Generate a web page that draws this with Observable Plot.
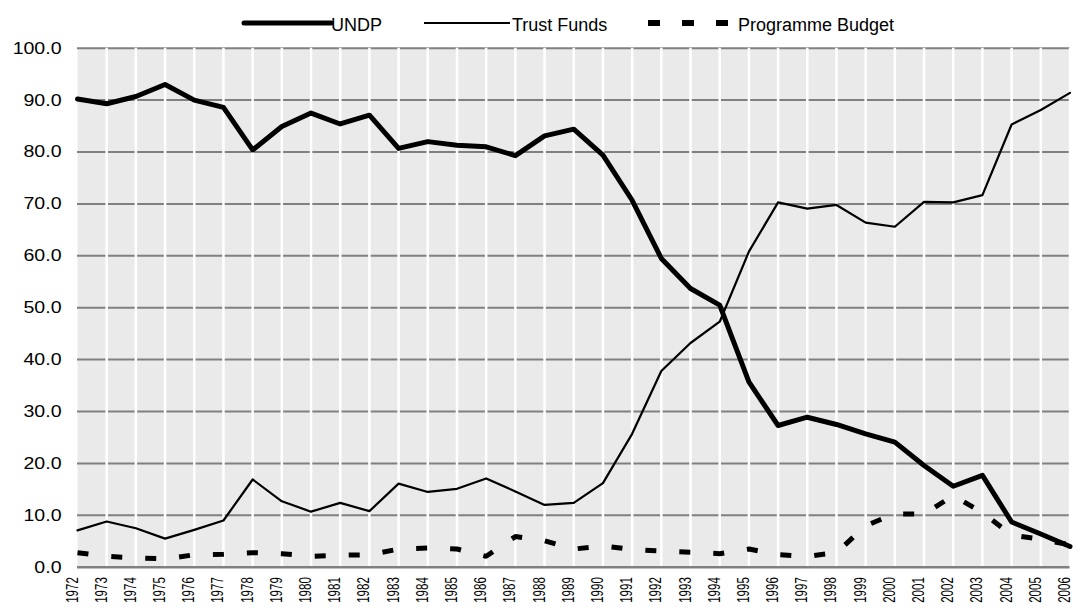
<!DOCTYPE html>
<html><head><meta charset="utf-8">
<script src="https://cdn.jsdelivr.net/npm/d3@7"></script>
<script src="https://cdn.jsdelivr.net/npm/@observablehq/plot@0.6"></script>
<style>
html,body{margin:0;padding:0;background:#fff;}
#wrap{position:relative;width:1075px;height:612px;overflow:hidden;font-family:"Liberation Sans",Arial,sans-serif;}
#legend{position:absolute;left:0;top:0;}
#chart{position:absolute;left:0;top:36px;}
</style></head><body>
<div id="wrap"><svg id="legend" width="1075" height="36"></svg><div id="chart"></div></div>
<script>
const years = [1972,1973,1974,1975,1976,1977,1978,1979,1980,1981,1982,1983,1984,1985,1986,1987,1988,1989,1990,1991,1992,1993,1994,1995,1996,1997,1998,1999,2000,2001,2002,2003,2004,2005,2006];
const undp = [90.2,89.3,90.7,93.0,90.0,88.6,80.4,84.9,87.5,85.4,87.1,80.7,82.0,81.3,81.0,79.3,83.1,84.4,79.4,70.7,59.5,53.7,50.5,35.7,27.3,28.9,27.5,25.7,24.1,19.6,15.6,17.7,8.7,6.4,4.0];
const trustFunds = [7.1,8.8,7.5,5.5,7.2,9.0,16.9,12.7,10.7,12.4,10.8,16.1,14.5,15.1,17.1,14.6,12.0,12.4,16.2,25.7,37.8,43.2,47.3,60.8,70.3,69.1,69.8,66.4,65.6,70.4,70.3,71.7,85.3,88.1,91.4];
const programmeBudget = [2.8,2.1,1.8,1.6,2.4,2.5,2.8,2.6,2.1,2.3,2.4,3.5,3.7,3.5,2.1,5.9,5.1,3.5,4.1,3.4,3.1,2.9,2.6,3.5,2.4,2.1,2.8,8.0,10.3,10.2,13.8,10.5,6.2,5.4,4.3];
const seriesNames = ["UNDP","Trust Funds","Programme Budget"];
const yTicks = [0,10,20,30,40,50,60,70,80,90,100];
const gridTicks = [10,20,30,40,50,60,70,80,90,100];

const FONT = '"Liberation Sans", Arial, Helvetica, sans-serif';

// Legend
const lg = d3.select("#legend");
const legendItems = [
  {name: seriesNames[0], x1: 244, x2: 331, tx: 331, w: 5, dash: null, cap: "round"},
  {name: seriesNames[1], x1: 424, x2: 510, tx: 512, w: 2, dash: null, cap: "butt"},
  {name: seriesNames[2], x1: 648, x2: 729, tx: 738, w: 6, dash: "12,22", cap: "butt"}
];
legendItems.forEach(it => {
  lg.append("line").attr("x1", it.x1).attr("x2", it.x2).attr("y1", 23).attr("y2", 23)
    .attr("stroke", "#000").attr("stroke-width", it.w).attr("stroke-linecap", it.cap)
    .attr("stroke-dasharray", it.dash);
  lg.append("text").attr("x", it.tx).attr("y", 31).attr("font-size", 18)
    .attr("font-family", FONT).attr("fill", "#000").text(it.name);
});

const chart = Plot.plot({
  width: 1075,
  height: 576,
  marginTop: 11.7,
  marginBottom: 45.3,
  marginLeft: 77,
  marginRight: 5.5,
  x: {domain: [1972, 2006], axis: null},
  y: {domain: [0, 100], axis: null},
  style: {fontFamily: FONT, color: "#000", background: "transparent", overflow: "visible"},
  marks: [
    Plot.frame({fill: "#eaeaea", stroke: "none"}),
    Plot.ruleY(gridTicks, {y: d => d, stroke: "#808080", strokeWidth: 2}),
    Plot.ruleX(years.slice(1), {x: d => d, stroke: "#ffffff", strokeWidth: 2.5}),
    Plot.ruleY([0], {y: d => d, stroke: "#808080", strokeWidth: 2.5}),
    Plot.line(years, {x: d => d, y: (d, i) => programmeBudget[i], stroke: "#000", strokeWidth: 5, strokeDasharray: "11,23", strokeLinecap: "butt", strokeLinejoin: "miter"}),
    Plot.line(years, {x: d => d, y: (d, i) => trustFunds[i], stroke: "#000", strokeWidth: 2.2}),
    Plot.line(years, {x: d => d, y: (d, i) => undp[i], stroke: "#000", strokeWidth: 5, strokeLinejoin: "round", strokeLinecap: "round"}),
    Plot.text(yTicks, {y: d => d, frameAnchor: "left", text: d => d.toFixed(1), textAnchor: "end", dx: -16, fontSize: 17, fill: "#000"}),
    Plot.text(years, {x: d => d, frameAnchor: "bottom", text: d => String(d), rotate: -90, textAnchor: "end", dy: 10, fontSize: 11.5, fill: "#000"})
  ]
});
document.getElementById("chart").appendChild(chart);

function stretch(test, s) {
  chart.querySelectorAll("text").forEach(t => {
    if (!test(t.textContent)) return;
    let tr = t.getAttribute("transform");
    if (!tr) {
      const x = +(t.getAttribute("x") || 0), y = +(t.getAttribute("y") || 0);
      t.removeAttribute("x"); t.removeAttribute("y");
      tr = `translate(${x},${y})`;
    }
    t.setAttribute("transform", tr + " " + s);
  });
}
stretch(s => /^\d+\.0$/.test(s), "scale(1.15,1)");
stretch(s => /^\d{4}$/.test(s), "scale(1,1.45)");
</script>
</body></html>
